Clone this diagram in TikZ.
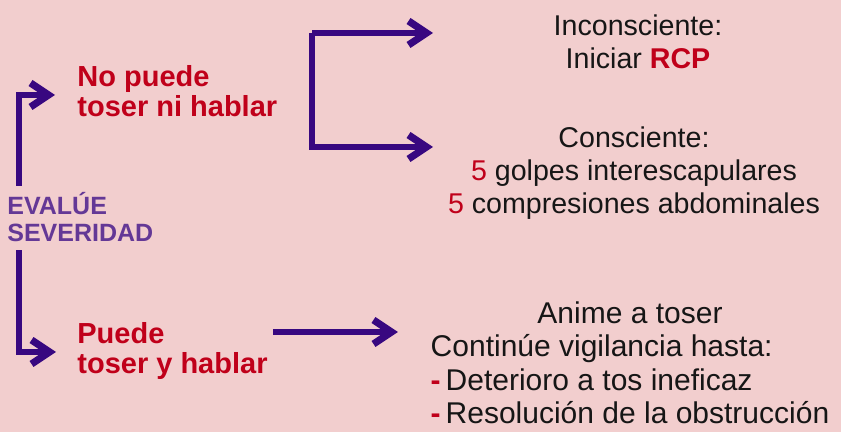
\documentclass[tikz,border=0pt]{standalone}
\usepackage{fontspec}
\setmainfont{Liberation Sans}
\usetikzlibrary{arrows.meta,positioning}
\definecolor{bgPink}{RGB}{242,206,206}
\definecolor{cpRed}{RGB}{192,0,26}
\definecolor{sevPurple}{RGB}{100,56,150}
\definecolor{arrowPurple}{RGB}{56,8,128}
\definecolor{txtDark}{RGB}{22,22,22}

\begin{document}
\begin{tikzpicture}[x=0.5pt, y=-0.5pt,
    redlbl/.style={anchor=west, inner sep=0pt, text=cpRed,
      font=\fontsize{14.5}{14.5}\selectfont\bfseries},
    sevlbl/.style={anchor=west, inner sep=0pt, text=sevPurple,
      font=\fontsize{12.5}{13.5}\selectfont\bfseries},
    infobox/.style={inner sep=0pt, text=txtDark,
      font=\fontsize{14.3}{16.5}\selectfont},
    arrow/.style={draw=arrowPurple, line width=3pt,
      -{Straight Barb[length=9pt,width=12pt,line width=3.6pt]}}
  ]
    \fill[bgPink] (0,0) rectangle (841,432);
    \useasboundingbox (0,0) rectangle (841,432);

    \node[sevlbl] (ev) at (7,221) {\begin{tabular}{@{}l@{}}EVALÚE\\SEVERIDAD\end{tabular}};
    \node[redlbl] (np) at (77,95) {\begin{tabular}{@{}l@{}}No puede\\toser ni hablar\end{tabular}};
    \node[redlbl] (pd) at (77,352) {\begin{tabular}{@{}l@{}}Puede\\toser y hablar\end{tabular}};

    \node[infobox] (inc) at (638,45) {\begin{tabular}{@{}c@{}}Inconsciente:\\
      Iniciar \textbf{\textcolor{cpRed}{RCP}}\end{tabular}};
    \node[infobox] (con) at (634,174) {\begin{tabular}{@{}c@{}}Consciente:\\
      \textcolor{cpRed}{5} golpes interescapulares\\
      \textcolor{cpRed}{5} compresiones abdominales\end{tabular}};
    \node[infobox, font=\fontsize{15}{16.7}\selectfont] (adv) at (630,367) {\begin{tabular}{@{}l@{}}\multicolumn{1}{@{}c@{}}{Anime a toser}\\
      Continúe vigilancia hasta:\\
      \textcolor{cpRed}{\textbf{-}}\,Deterioro a tos ineficaz\\
      \textcolor{cpRed}{\textbf{-}}\,Resolución de la obstrucción\end{tabular}};

    % severity split
    \draw[arrow, shorten >=11pt] ([xshift=6pt,yshift=3pt]ev.north west) |- (np.west);
    \draw[arrow, shorten >=10.5pt] ([xshift=6pt]ev.south west) |- (pd.west);

    % conscious or not
    \coordinate (fktop) at (312,33);
    \coordinate (fkbot) at (312,147);
    \draw[arrow] (fktop) -- ++(121,0);
    \draw[arrow] (fktop) -- (fkbot) -- ++(121,0);

    \draw[arrow] ([shift={(2.5pt,10pt)}]pd.east) -- ++(125,0);
  \end{tikzpicture}
\end{document}
